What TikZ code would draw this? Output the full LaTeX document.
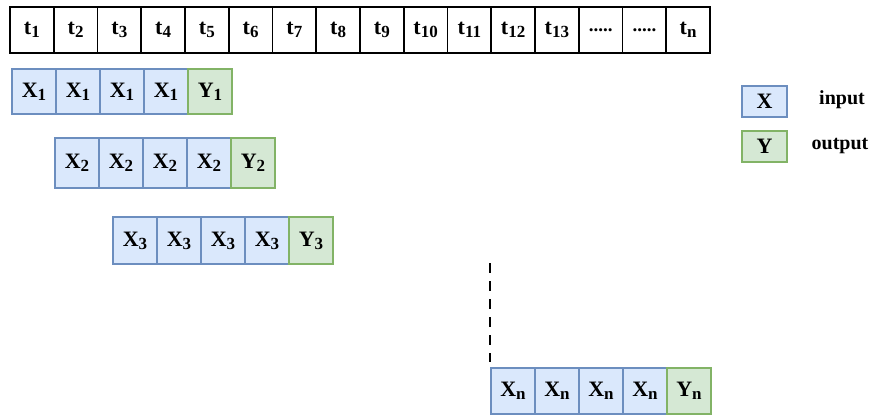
\documentclass[tikz,border=0pt]{standalone}
\usepackage{fontspec}
\setmainfont{Liberation Serif}
\definecolor{xfill}{HTML}{DAE8FC}
\definecolor{xborder}{HTML}{6C8EBF}
\definecolor{yfill}{HTML}{D5E8D4}
\definecolor{yborder}{HTML}{82B366}
\newcommand{\lowsub}[1]{\raisebox{-0.3ex}{\fontsize{17}{17}\selectfont #1}}
\tikzset{
  tcell/.style={draw=black, line width=1.8pt, minimum width=43.75pt, minimum height=46pt, inner sep=0pt, font=\fontsize{22}{22}\selectfont\bfseries},
  xcell/.style={draw=xborder, fill=xfill, line width=2.4pt, minimum width=44pt, minimum height=45pt, inner sep=0pt, font=\fontsize{22}{22}\selectfont\bfseries},
  ycell/.style={xcell, draw=yborder, fill=yfill},
  legtext/.style={inner sep=0pt, font=\fontsize{20}{20}\selectfont\bfseries},
  dline/.style={line width=2.8pt, dash pattern=on 10pt off 8pt}
}
\begin{document}
\begin{tikzpicture}[x=1pt, y=-1pt]
\useasboundingbox (0,0) rectangle (876,416);
% time row
\foreach \i/\lab in {1/t\lowsub{1},2/t\lowsub{2},3/t\lowsub{3},4/t\lowsub{4},5/t\lowsub{5},6/t\lowsub{6},7/t\lowsub{7},8/t\lowsub{8},9/t\lowsub{9},10/t\lowsub{10},11/t\lowsub{11},12/t\lowsub{12},13/t\lowsub{13},14/{\fontsize{19}{19}\selectfont .....},15/{\fontsize{19}{19}\selectfont .....},16/t\lowsub{n}}
  \node[tcell] (t\i) at ({10+43.75*(\i-0.5)},30) {\lab};
% sample rows
\foreach \r/\x/\y/\h in {1/12/91.5/45,2/55/163/50,3/113/240.5/47,n/491/391/46}{
  \foreach \j in {1,...,4}
    \node[xcell, minimum height=\h pt] (x\r-\j) at ({\x+44*(\j-0.5)},\y) {X\lowsub{\r}};
  \node[ycell, minimum height=\h pt] (y\r) at ({\x+44*4.5},\y) {Y\lowsub{\r}};
}
% dashed continuation
\coordinate (dtop) at (490,263);
\coordinate (dbot) at (490,362);
\draw[dline] (dtop) -- (dbot);
% legend
\node[xcell, minimum width=45pt, minimum height=31pt] (legx) at (764.5,101.5) {X};
\node[ycell, minimum width=45pt, minimum height=31pt] (legy) at (764.5,146.5) {Y};
\node[legtext] (inp) at (842,100) {input};
\node[legtext] (outp) at (840,146) {output};
\end{tikzpicture}
\end{document}
